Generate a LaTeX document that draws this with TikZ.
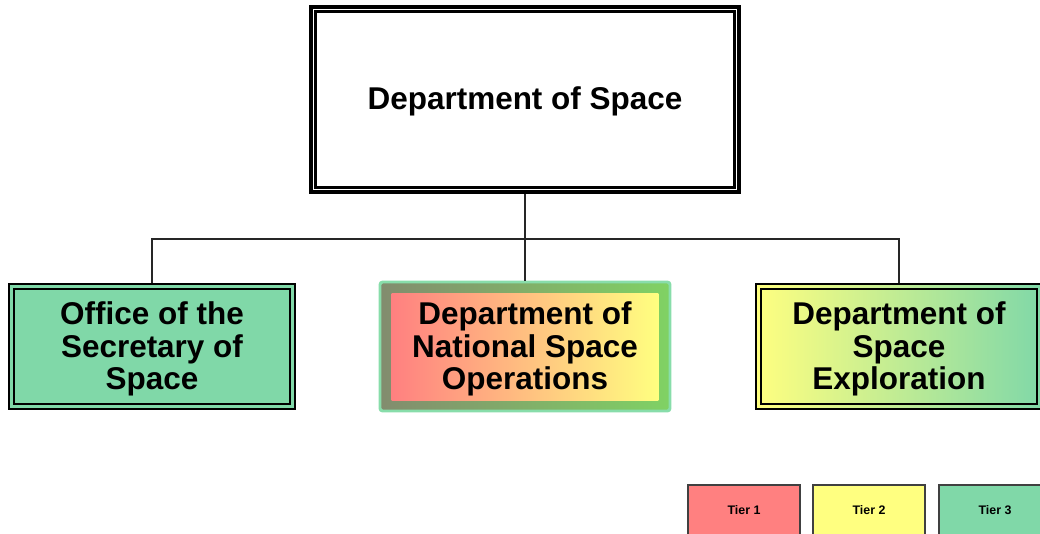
\documentclass[tikz,border=0pt]{standalone}
\usepackage{fontspec}
\setmainfont{Liberation Sans}
\usetikzlibrary{backgrounds}
\definecolor{tgreen}{RGB}{128,216,168}
\definecolor{tyellow}{RGB}{255,255,128}
\definecolor{tred}{RGB}{255,128,128}
\definecolor{midL}{RGB}{130,140,110}
\definecolor{midR}{RGB}{128,210,100}
\definecolor{midB}{RGB}{136,221,170}
\definecolor{shadowc}{RGB}{204,204,204}
\tikzset{
  bigfont/.style={font=\fontsize{23.6}{24.5}\selectfont\bfseries},
  label text/.style={align=center, bigfont, inner sep=0pt},
  topbox/.style={draw=black, line width=2.4pt, fill=white, minimum width=321pt, minimum height=138.75pt, inner sep=0pt},
  childbox/.style={draw=black, line width=2pt, minimum width=214.5pt, minimum height=93.75pt, inner sep=0pt},
  midbox/.style={draw=midB, line width=2.2pt, rounded corners=2pt, minimum width=217.5pt, minimum height=96.75pt, inner sep=0pt, left color=midL, right color=midR},
  innerline/.style={draw=black, line width=1.7pt},
  conn/.style={draw=black!85, line width=0.8pt},
  tierbox/.style={draw=black!75, line width=0.8pt, minimum width=84pt, minimum height=37.5pt, inner sep=0pt, font=\fontsize{9.3}{11}\selectfont\bfseries}
}
\begin{document}
\begin{tikzpicture}[x=0.75pt, y=-0.75pt]
\clip (0,0) rectangle (1040,533);
\fill[white] (0,0) rectangle (1040,533);

% top box
\node[topbox] (top) at (525,99.5) {};
\draw[innerline] ([shift={(6,6)}]top.north west) rectangle ([shift={(-6,-6)}]top.south east);
\node[label text] (toptext) at ([yshift=-1.5pt]top.center) {Department of Space};
\begin{scope}[on background layer]
  \fill[shadowc] ([shift={(35,30)}]top.north west) rectangle ([shift={(37,32)}]top.south east);
\end{scope}

% children
\node[childbox, fill=tgreen] (left) at (152,346.5) {};
\draw[innerline] ([shift={(6,6)}]left.north west) rectangle ([shift={(-6,-6)}]left.south east);
\node[label text] (lefttext) at ([yshift=-2pt]left.center) {Office of the\\Secretary of\\Space};

\node[midbox] (mid) at (525,346.5) {};
\fill[left color=tred, right color=tyellow] ([shift={(13,13)}]mid.north west) rectangle ([shift={(-13,-12)}]mid.south east);
\node[label text] (midtext) at ([yshift=-2pt]mid.center) {Department of\\National Space\\Operations};

\node[childbox, left color=tyellow, right color=tgreen] (right) at (899,346.5) {};
\draw[innerline] ([shift={(6,6)}]right.north west) rectangle ([shift={(-6,-6)}]right.south east);
\node[label text] (righttext) at ([yshift=-2pt]right.center) {Department of\\Space\\Exploration};

% connectors
\coordinate (bus) at (525,239);
\draw[conn] (top.south) -- (mid.north);
\draw[conn] (left.north) -- (left.north |- bus) -- (right.north |- bus) -- (right.north);

% legend
\node[tierbox, fill=tred] (t1) at (744,510) {Tier 1};
\node[tierbox, fill=tyellow] (t2) at (869,510) {Tier 2};
\node[tierbox, fill=tgreen] (t3) at (995,510) {Tier 3};
\end{tikzpicture}
\end{document}
